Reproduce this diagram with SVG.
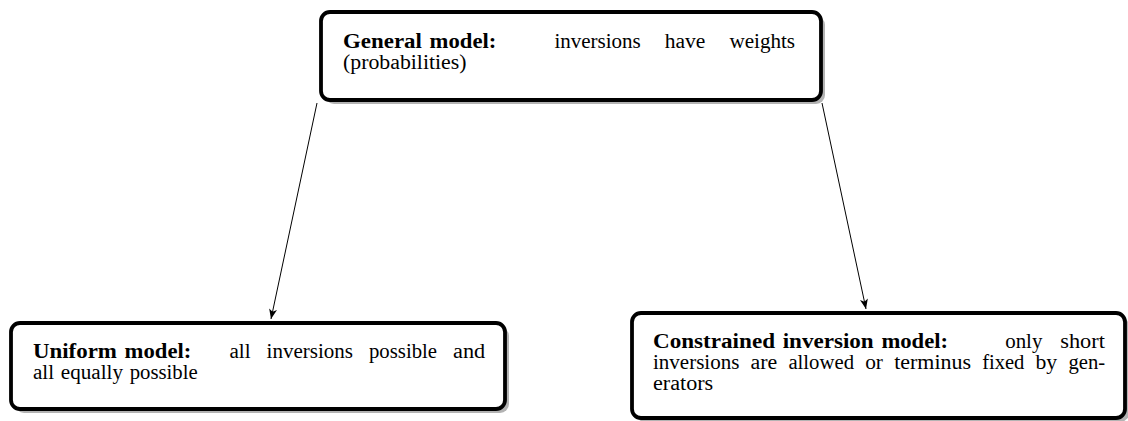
<svg xmlns="http://www.w3.org/2000/svg" width="1128" height="421" viewBox="0 0 1128 421">
  <defs>
    <style>
      .shadow { fill: #b3b3b3; stroke: none; }
      .box { fill: #ffffff; stroke: #000000; stroke-width: 3.8; }
      .t { font-family: "Liberation Serif", "Times New Roman", serif; font-size: 20px; fill: #000000; }
      .b { font-weight: bold; }
      .edge { stroke: #000000; stroke-width: 1; fill: none; }
    </style>
    <marker id="arrow" viewBox="0 0 10 8" refX="10" refY="4" markerWidth="10" markerHeight="8" markerUnits="userSpaceOnUse" orient="auto">
      <path d="M0,0 L10,4 L0,8 L2.5,4 Z" fill="#000000"/>
    </marker>
  </defs>

  <g id="connectors">
    <line class="edge" x1="317" y1="103" x2="271" y2="319" marker-end="url(#arrow)"/>
    <line class="edge" x1="822" y1="103" x2="866" y2="309" marker-end="url(#arrow)"/>
  </g>

  <g id="general">
    <rect class="shadow" x="325" y="16" width="500" height="88" rx="9"/>
    <rect class="box" x="321" y="12" width="500" height="88" rx="9"/>
    <text class="t" y="48"><tspan class="b" x="343" textLength="78.9" lengthAdjust="spacingAndGlyphs">General</tspan> <tspan class="b" x="429.6" textLength="66.7" lengthAdjust="spacingAndGlyphs">model:</tspan> <tspan x="554.4" textLength="86.4" lengthAdjust="spacingAndGlyphs">inversions</tspan> <tspan x="664.8" textLength="40.6" lengthAdjust="spacingAndGlyphs">have</tspan> <tspan x="729.4" textLength="65.7" lengthAdjust="spacingAndGlyphs">weights</tspan></text>
    <text class="t" x="343" y="69" textLength="123.5" lengthAdjust="spacingAndGlyphs">(probabilities)</text>
  </g>

  <g id="uniform">
    <rect class="shadow" x="15" y="327" width="494" height="86" rx="9"/>
    <rect class="box" x="11" y="323" width="494" height="86" rx="9"/>
    <text class="t" y="358"><tspan class="b" x="33" textLength="83.9" lengthAdjust="spacingAndGlyphs">Uniform</tspan> <tspan class="b" x="124.6" textLength="66.7" lengthAdjust="spacingAndGlyphs">model:</tspan> <tspan x="229.5" textLength="21.1" lengthAdjust="spacingAndGlyphs">all</tspan> <tspan x="266.6" textLength="86.4" lengthAdjust="spacingAndGlyphs">inversions</tspan> <tspan x="369" textLength="68" lengthAdjust="spacingAndGlyphs">possible</tspan> <tspan x="453" textLength="32.2" lengthAdjust="spacingAndGlyphs">and</tspan></text>
    <text class="t" y="379"><tspan x="33" textLength="21.1" lengthAdjust="spacingAndGlyphs">all</tspan> <tspan x="60.8" textLength="62.2" lengthAdjust="spacingAndGlyphs">equally</tspan> <tspan x="129.7" textLength="68" lengthAdjust="spacingAndGlyphs">possible</tspan></text>
  </g>

  <g id="constrained">
    <rect class="shadow" x="636" y="317" width="493" height="105" rx="9"/>
    <rect class="box" x="632" y="313" width="493" height="105" rx="9"/>
    <text class="t" y="348"><tspan class="b" x="653" textLength="122" lengthAdjust="spacingAndGlyphs">Constrained</tspan> <tspan class="b" x="782.7" textLength="91" lengthAdjust="spacingAndGlyphs">inversion</tspan> <tspan class="b" x="881.4" textLength="66.7" lengthAdjust="spacingAndGlyphs">model:</tspan> <tspan x="1005.2" textLength="37.2" lengthAdjust="spacingAndGlyphs">only</tspan> <tspan x="1060.3" textLength="44.6" lengthAdjust="spacingAndGlyphs">short</tspan></text>
    <text class="t" y="369"><tspan x="653" textLength="86.4" lengthAdjust="spacingAndGlyphs">inversions</tspan> <tspan x="750.6" textLength="26.7" lengthAdjust="spacingAndGlyphs">are</tspan> <tspan x="788.4" textLength="65.6" lengthAdjust="spacingAndGlyphs">allowed</tspan> <tspan x="865.2" textLength="17.8" lengthAdjust="spacingAndGlyphs">or</tspan> <tspan x="894.2" textLength="76.8" lengthAdjust="spacingAndGlyphs">terminus</tspan> <tspan x="982.2" textLength="42.2" lengthAdjust="spacingAndGlyphs">fixed</tspan> <tspan x="1035.5" textLength="21.7" lengthAdjust="spacingAndGlyphs">by</tspan> <tspan x="1068.4" textLength="36.7" lengthAdjust="spacingAndGlyphs">gen-</tspan></text>
    <text class="t" x="653" y="390" textLength="60.2" lengthAdjust="spacingAndGlyphs">erators</text>
  </g>
</svg>
